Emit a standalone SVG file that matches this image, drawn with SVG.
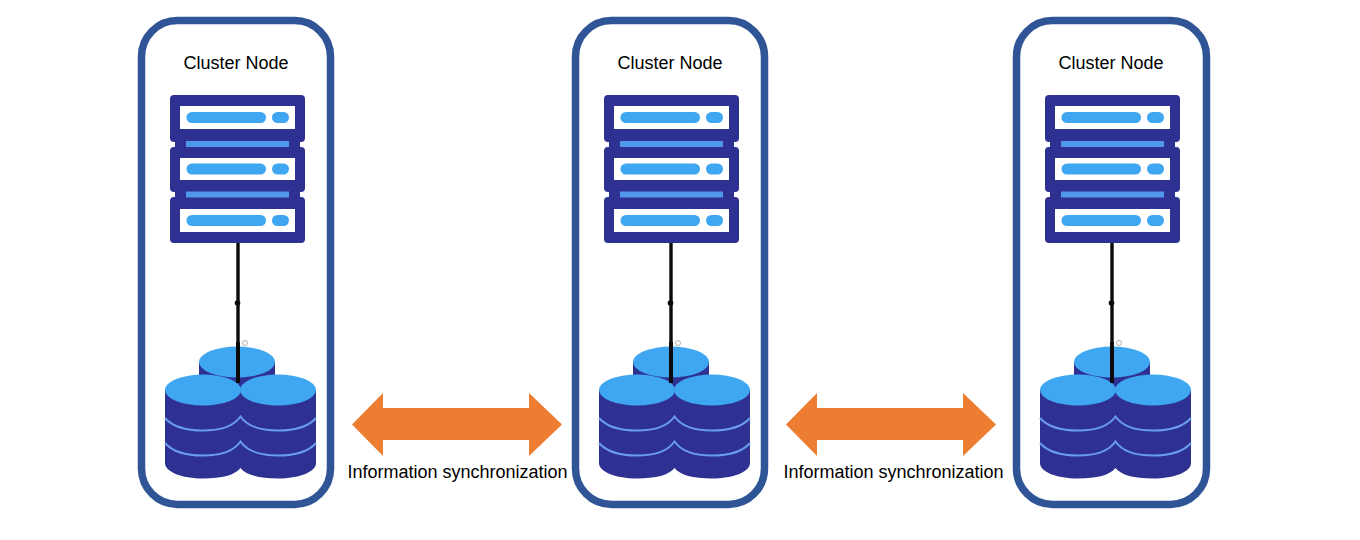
<svg xmlns="http://www.w3.org/2000/svg" width="1360" height="540" viewBox="0 0 1360 540">
<style>
.box{fill:#fff;stroke:#2f5597;stroke-width:7.500}
.dark{fill:#2e3192}
.light{fill:#3fa6f2}
.strip{fill:#4f98ec}
.win{fill:#fff}
.lbl{font-family:"Liberation Sans",Arial,sans-serif;font-size:18px;fill:#000;text-anchor:middle}
.sync{fill:#ed7d31}
.band{fill:none;stroke:#6a9cec;stroke-width:2}
.wire{stroke:#0a0a0a;fill:none}
.hole{fill:#fff;stroke:#b0b0b0;stroke-width:1}
</style>
<defs>
<g id="server">
<rect class="dark" x="170" y="95" width="135" height="47" rx="4"/>
<rect class="dark" x="170" y="147" width="135" height="45" rx="4"/>
<rect class="dark" x="170" y="197" width="135" height="46" rx="4"/>
<rect class="dark" x="175" y="135" width="125" height="70"/>
<rect class="win" x="180" y="106" width="115" height="23"/>
<rect class="win" x="180" y="158" width="115" height="22"/>
<rect class="win" x="180" y="209" width="115" height="23"/>
<rect class="light" x="186.500" y="112" width="79.500" height="11" rx="5.500"/>
<rect class="light" x="272" y="112" width="17" height="11" rx="5.500"/>
<rect class="light" x="186.500" y="163.500" width="79.500" height="11" rx="5.500"/>
<rect class="light" x="272" y="163.500" width="17" height="11" rx="5.500"/>
<rect class="light" x="186.500" y="215" width="79.500" height="11" rx="5.500"/>
<rect class="light" x="272" y="215" width="17" height="11" rx="5.500"/>
<rect class="strip" x="186" y="141" width="103" height="6"/>
<rect class="strip" x="186" y="191.500" width="103" height="6"/>
</g>
<g id="storage">
<path class="dark" d="M199 362V380H275V362Z"/>
<ellipse class="dark" cx="237" cy="377" rx="38" ry="15"/>
<ellipse class="light" cx="237" cy="362" rx="38" ry="15.500"/>
<path class="dark" d="M165 390V463C165 472 182 478.500 203 478.500C222 478.500 235 475 240.500 468C246 475 259 478.500 278 478.500C299 478.500 316 472 316 463V390Z"/>
<ellipse class="light" cx="203" cy="390" rx="38" ry="15.500"/>
<ellipse class="light" cx="278" cy="390" rx="38" ry="15.500"/>
<path class="band" d="M165 418C172 426 186 430.500 203 430.500C220 430.500 234 426 240.500 416.500C247 426 261 430.500 278 430.500C295 430.500 309 426 316 418"/>
<path class="band" d="M165 443C172 451 186 455.500 203 455.500C220 455.500 234 451 240.500 441.500C247 451 261 455.500 278 455.500C295 455.500 309 451 316 443"/>
</g>
<polygon id="sync" class="sync" points="352,424.500 383,393 383,408 529,408 529,393 562,424.500 529,456 529,440 383,440 383,456"/>
</defs>

<g id="node-1">
<rect class="box" x="141.500" y="20.500" width="189" height="484" rx="36"/>
<text class="lbl" x="236" y="68.500">Cluster Node</text>
<use href="#server"/>
<use href="#storage"/>
</g>
<g id="node-2">
<rect class="box" x="575.500" y="20.500" width="189" height="484" rx="36"/>
<text class="lbl" x="670" y="68.500">Cluster Node</text>
<use href="#server" x="434"/>
<use href="#storage" x="434"/>
</g>
<g id="node-3">
<rect class="box" x="1016.500" y="20.500" width="190" height="484" rx="36"/>
<text class="lbl" x="1111" y="68.500">Cluster Node</text>
<use href="#server" x="875"/>
<use href="#storage" x="875"/>
</g>

<g id="connectors">
<path class="wire" stroke-width="3.400" d="M238 243V342"/>
<path class="wire" stroke-width="4" d="M238 342V383"/>
<circle cx="237.500" cy="303" r="2.800" fill="#0a0a0a"/>
<circle class="hole" cx="245" cy="343" r="2.500"/>
<path class="wire" stroke-width="3.400" d="M671 243V342"/>
<path class="wire" stroke-width="4" d="M671 342V383"/>
<circle cx="670.500" cy="303" r="2.800" fill="#0a0a0a"/>
<circle class="hole" cx="678" cy="343" r="2.500"/>
<path class="wire" stroke-width="3.400" d="M1112 243V342"/>
<path class="wire" stroke-width="4" d="M1112 342V383"/>
<circle cx="1111.500" cy="303" r="2.800" fill="#0a0a0a"/>
<circle class="hole" cx="1119" cy="343" r="2.500"/>
</g>

<g id="sync-1">
<use href="#sync"/>
<text class="lbl" x="457.500" y="478">Information synchronization</text>
</g>
<g id="sync-2">
<use href="#sync" x="434"/>
<text class="lbl" x="893.500" y="478">Information synchronization</text>
</g>
</svg>
